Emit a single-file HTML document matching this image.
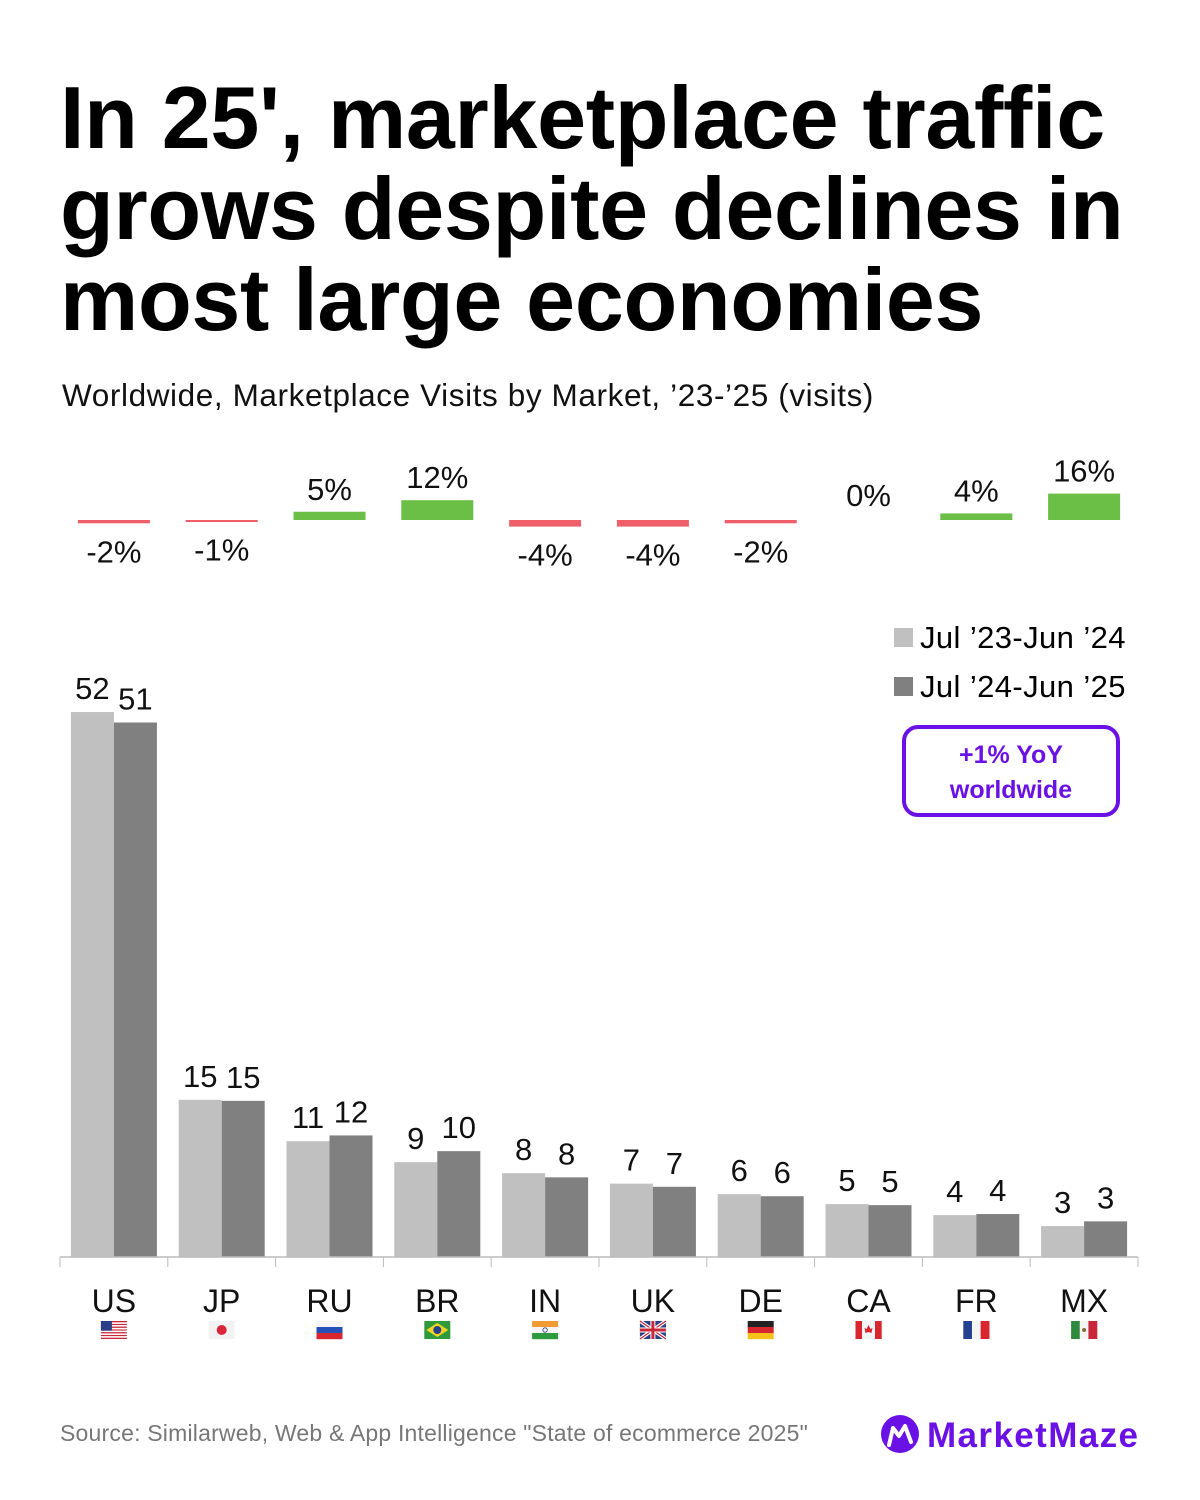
<!DOCTYPE html>
<html><head><meta charset="utf-8">
<style>
html,body{margin:0;padding:0;background:#fff;}
body{width:1200px;height:1500px;position:relative;overflow:hidden;font-family:"Liberation Sans",sans-serif;}
.title{position:absolute;left:60px;top:72px;font-size:88px;font-weight:bold;line-height:91px;color:#000;letter-spacing:-0.3px;margin:0;}
.sub{position:absolute;left:62px;top:377px;font-size:31.5px;color:#111;letter-spacing:0.6px;}
.src{position:absolute;left:60px;top:1420px;font-size:23px;color:#777;letter-spacing:0.2px;}
svg{position:absolute;left:0;top:0;}
</style></head>
<body>
<h1 class="title">In 25', marketplace traffic<br>grows despite declines in<br>most large economies</h1>
<div class="sub">Worldwide, Marketplace Visits by Market, ’23-’25 (visits)</div>
<svg id="chart" width="1200" height="1500" font-family="Liberation Sans, sans-serif">
  <g id="growth"></g>
  <g id="bars"></g>
  <g id="legend">
    <rect x="894" y="628" width="19" height="19" fill="#c0c0c0"/>
    <text x="920" y="648" font-size="31" letter-spacing="0.4" fill="#000">Jul ’23-Jun ’24</text>
    <rect x="894" y="677" width="19" height="19" fill="#808080"/>
    <text x="920" y="697" font-size="31" letter-spacing="0.4" fill="#000">Jul ’24-Jun ’25</text>
  </g>
  <g>
    <rect x="904" y="727" width="214" height="88" rx="14" fill="none" stroke="#6a12e6" stroke-width="4"/>
    <text x="1011" y="763" font-size="25" font-weight="bold" fill="#6a12e6" text-anchor="middle">+1% YoY</text>
    <text x="1011" y="798" font-size="25" font-weight="bold" fill="#6a12e6" text-anchor="middle">worldwide</text>
  </g>
  <g>
    <circle cx="900" cy="1434" r="19" fill="#6a12e6"/>
    <path d="M889 1445 L893 1428 L899 1436 L905 1426 L911 1442" fill="none" stroke="#fff" stroke-width="4" stroke-linejoin="round" stroke-linecap="round"/>
    <text x="927" y="1447" font-size="35" font-weight="bold" fill="#6a12e6" textLength="211">MarketMaze</text>
  </g>
</svg>
<div class="src">Source: Similarweb, Web &amp; App Intelligence "State of ecommerce 2025"</div>
<script>
const categories = ["US","JP","RU","BR","IN","UK","DE","CA","FR","MX"];
const visits2324 = [52,15,11.05,9.05,8,7,6,5.05,4,2.95];
const visits2425 = [51,14.9,11.6,10.1,7.6,6.7,5.8,4.95,4.1,3.4];
const growthPct = [-2,-1,5,12,-4,-4,-2,0,4,16];

const NS = "http://www.w3.org/2000/svg";
const x0 = 60, step = 107.8, baseY = 1257, pxPerUnit = 10.48;
const gBase = 520, gScale = 1.65;
function xCenter(i){ return x0 + step*(i+0.5); }
function yVal(v){ return baseY - v*pxPerUnit; }
function gY(p){ return gBase - p*gScale; }
function mk(tag, attrs, parent){ const e=document.createElementNS(NS,tag); for(const k in attrs) e.setAttribute(k,attrs[k]); parent.appendChild(e); return e; }

const growth = document.getElementById('growth');
growthPct.forEach((p,i)=>{
  const cx = xCenter(i);
  if (p !== 0) {
    const top = Math.min(gY(p), gBase), h = Math.max(Math.abs(gY(p)-gBase), 2);
    const r = mk('rect',{x:cx-36,y:top,width:72,height:h,fill:p>0?'#6cbf46':'#ef5f6a'},growth);
    
    
  }
  const ly = p > 0 ? gY(p) - 12 : (p < 0 ? gY(p) + 39 : gBase - 14);
  const t = mk('text',{x:cx,y:ly,'font-size':31,'text-anchor':'middle',fill:'#111'},growth);
  t.textContent = p + '%';
  
  
});

const bars = document.getElementById('bars');
const bw = 43;
categories.forEach((c,i)=>{
  const cx = xCenter(i);
  const a = visits2324[i], b = visits2425[i];
  const r1 = mk('rect',{x:cx-bw,y:yVal(a),width:bw,height:baseY-yVal(a),fill:'#c0c0c0'},bars);
  
  
  const r2 = mk('rect',{x:cx,y:yVal(b),width:bw,height:baseY-yVal(b),fill:'#808080'},bars);
  
  
  const t1 = mk('text',{x:cx-bw/2,y:yVal(a)-13,'font-size':31,'text-anchor':'middle',fill:'#111'},bars);
  t1.textContent = Math.round(a);
  
  
  const t2 = mk('text',{x:cx+bw/2,y:yVal(b)-13,'font-size':31,'text-anchor':'middle',fill:'#111'},bars);
  t2.textContent = Math.round(b);
  
  
  const lab = mk('text',{x:cx,y:1312,'font-size':32,'text-anchor':'middle',fill:'#111'},bars);
  lab.textContent = c;
  
  
  const fg = mk('g',{transform:'translate('+(cx-13)+',1321)'},bars);
  
  
  drawFlag(c, fg);
});
for (let i=0;i<=categories.length;i++){
  mk('line',{x1:x0+step*i,x2:x0+step*i,y1:baseY,y2:baseY+10,stroke:'#bbb','stroke-width':1},bars);
}
const ax = mk('line',{x1:x0,x2:x0+step*categories.length,y1:baseY,y2:baseY,stroke:'#bbb','stroke-width':1.5},bars);



function stripes(g, cols, horiz){
  const n = cols.length;
  cols.forEach((col,k)=>{
    if (horiz) mk('rect',{x:0,y:k*18/n,width:26,height:18/n+0.2,fill:col},g);
    else mk('rect',{x:k*26/n,y:0,width:26/n+0.2,height:18,fill:col},g);
  });
}
function drawFlag(c, g){
  switch(c){
    case 'US':
      for(let k=0;k<7;k++) mk('rect',{x:0,y:k*18/6.5,width:26,height:18/13,fill:'#c8283a'},g);
      for(let k=0;k<6;k++) mk('rect',{x:0,y:k*18/6.5+18/13,width:26,height:18/13,fill:'#fff'},g);
      mk('rect',{x:0,y:0,width:11,height:9.7,fill:'#2b3f86'},g); break;
    case 'JP':
      mk('rect',{x:0,y:0,width:26,height:18,fill:'#f2f2f2'},g);
      mk('circle',{cx:13,cy:9,r:5,fill:'#d9263a'},g); break;
    case 'RU': stripes(g,['#f4f4f4','#2450b8','#d8262e'],true); break;
    case 'BR':
      mk('rect',{x:0,y:0,width:26,height:18,fill:'#2f9a3c'},g);
      mk('polygon',{points:'13,2 24,9 13,16 2,9',fill:'#f5d322'},g);
      mk('circle',{cx:13,cy:9,r:4,fill:'#24408e'},g); break;
    case 'IN':
      stripes(g,['#f29a34','#f4f4f4','#2e9a3e'],true);
      mk('circle',{cx:13,cy:9,r:2.2,fill:'none',stroke:'#2b3f86','stroke-width':0.8},g); break;
    case 'UK':
      mk('rect',{x:0,y:0,width:26,height:18,fill:'#2b3f86'},g);
      mk('path',{d:'M0 0 L26 18 M26 0 L0 18',stroke:'#fff','stroke-width':3.5},g);
      mk('path',{d:'M0 0 L26 18 M26 0 L0 18',stroke:'#c8283a','stroke-width':1.2},g);
      mk('path',{d:'M13 0 V18 M0 9 H26',stroke:'#fff','stroke-width':5},g);
      mk('path',{d:'M13 0 V18 M0 9 H26',stroke:'#c8283a','stroke-width':3},g); break;
    case 'DE': stripes(g,['#222','#d8262e','#f4c21a'],true); break;
    case 'CA':
      stripes(g,['#d8262e','#f4f4f4','#f4f4f4','#d8262e'],false);
      mk('polygon',{points:'13,4 15,8 17,7 16,12 13,11 10,12 9,7 11,8',fill:'#d8262e'},g); break;
    case 'FR': stripes(g,['#24408e','#f4f4f4','#d8262e'],false); break;
    case 'MX':
      stripes(g,['#2e8a3e','#f4f4f4','#c8283a'],false);
      mk('circle',{cx:13,cy:9,r:2,fill:'#8a6a3a'},g); break;
  }
}
</script>
</body></html>
